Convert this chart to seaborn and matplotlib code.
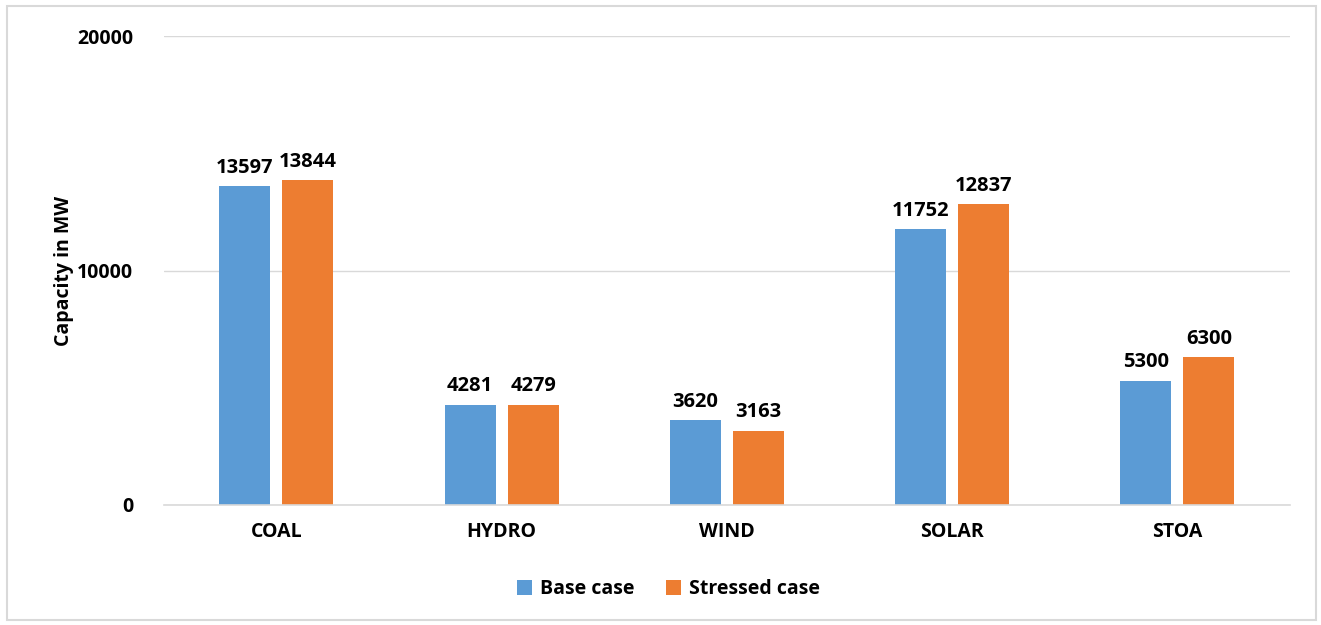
import matplotlib
matplotlib.use("Agg")
import matplotlib.pyplot as plt
import seaborn as sns
import pandas as pd
from matplotlib.patches import Rectangle

categories = ["COAL", "HYDRO", "WIND", "SOLAR", "STOA"]
base_case = [13597, 4281, 3620, 11752, 5300]
stressed_case = [13844, 4279, 3163, 12837, 6300]
series_names = ["Base case", "Stressed case"]
yticks = [0, 10000, 20000]

df = pd.DataFrame({
    "cat": categories * 2,
    "val": base_case + stressed_case,
    "series": [series_names[0]] * 5 + [series_names[1]] * 5,
})

sns.set_theme(style="white")
plt.rcParams['font.family'] = ['Open Sans', 'DejaVu Sans']
plt.rcParams['font.weight'] = 'bold'
plt.rcParams['text.color'] = 'black'
plt.rcParams['axes.labelcolor'] = 'black'
plt.rcParams['xtick.color'] = 'black'
plt.rcParams['ytick.color'] = 'black'
FS = 14

fig = plt.figure(figsize=(13.21, 6.25), dpi=100)
ax = fig.add_axes([0.124, 0.192, 0.8525, 0.7504])

sns.barplot(data=df, x="cat", y="val", hue="series", order=categories,
            hue_order=series_names, palette=["#5B9BD5", "#ED7D31"],
            saturation=1, width=0.56, gap=0.19, linewidth=0, ax=ax, legend=True)

ax.set_ylim(0, 20000)
ax.set_yticks(yticks)
ax.set_yticklabels([str(t) for t in yticks], fontsize=FS, fontweight='bold')
ax.set_xlim(-0.5, 4.5)
for lbl in ax.get_xticklabels():
    lbl.set_fontsize(FS)
    lbl.set_fontweight('bold')
ax.tick_params(axis='both', length=0, colors='black')
ax.tick_params(axis='y', pad=22)
ax.tick_params(axis='x', pad=12)
ax.grid(axis='y', color='#D9D9D9', linewidth=1)
ax.set_axisbelow(True)
for s in ["top", "right", "left"]:
    ax.spines[s].set_visible(False)
ax.spines["bottom"].set_color("#D9D9D9")
ax.spines["bottom"].set_linewidth(1.2)
ax.set_xlabel("")
ax.set_ylabel("Capacity in MW", fontsize=FS, fontweight='bold', labelpad=2,
              color='black')

for cont in ax.containers:
    ax.bar_label(cont, labels=[f"{int(v)}" for v in cont.datavalues],
                 padding=6, fontsize=14.5, fontweight='bold', color='black')

ax.legend_.remove()
handles, labels = ax.get_legend_handles_labels()
leg = fig.legend(handles, labels, loc='center', bbox_to_anchor=(0.506, 0.057),
                 ncol=2, frameon=False, handlelength=0.8,
                 handleheight=0.8, handletextpad=0.4, columnspacing=1.6,
                 prop={'weight': 'bold', 'size': FS})
for t in leg.get_texts():
    t.set_color('black')

fig.patches.append(Rectangle((0.005, 0.008), 0.991, 0.983, transform=fig.transFigure,
                             fill=False, edgecolor='#D9D9D9', linewidth=1.5))

fig.savefig("out.png", dpi=100)
